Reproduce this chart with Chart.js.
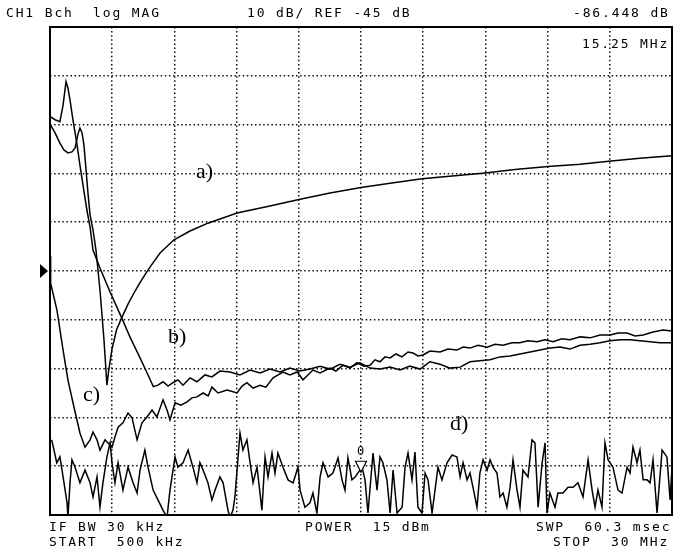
<!DOCTYPE html>
<html lang="en">
<head>
<meta charset="UTF-8">
<title>CH1 Bch log MAG</title>
<script src="https://cdn.jsdelivr.net/npm/chart.js"></script>
<style>
  body { margin: 0; background: #fff; }
  .wrap { position: relative; width: 673px; height: 549px; }
  .txt {
    position: absolute;
    font-family: 'DejaVu Sans Mono', monospace;
    font-size: 13px;
    line-height: 13px;
    letter-spacing: 1.85px;
    color: #000;
    white-space: pre;
  }
  .lbl {
    position: absolute;
    font-family: 'Liberation Serif', serif;
    font-size: 22px;
    line-height: 22px;
    color: #000;
  }
</style>
</head>
<body>
<div class="wrap">
  <canvas id="trace" width="673" height="549"></canvas>

  <span class="txt" style="left:6px; top:6px;">CH1 Bch  log MAG</span>
  <span class="txt" style="left:247px; top:6px;">10 dB/ REF -45 dB</span>
  <span class="txt" style="left:573px; top:6px;">-86.448 dB</span>
  <span class="txt" style="left:582px; top:37px;">15.25 MHz</span>

  <span class="txt" style="left:49px; top:520px;">IF BW 30 kHz</span>
  <span class="txt" style="left:49px; top:535px;">START  500 kHz</span>
  <span class="txt" style="left:305px; top:520px;">POWER  15 dBm</span>
  <span class="txt" style="left:536px; top:520px;">SWP  60.3 msec</span>
  <span class="txt" style="left:553px; top:535px;">STOP  30 MHz</span>

  <span class="txt" style="left:357px; top:445px; font-size:12px; letter-spacing:0;">0</span>

  <span class="lbl" style="left:196px; top:160px;">a)</span>
  <span class="lbl" style="left:168px; top:325px;">b)</span>
  <span class="lbl" style="left:83px; top:383px;">c)</span>
  <span class="lbl" style="left:450px; top:412px;">d)</span>
</div>

<script>
// sweep 500 kHz .. 30 MHz, 10 dB/div, REF -45 dB at centre line
const xTicks = [0.5, 3.45, 6.4, 9.35, 12.3, 15.25, 18.2, 21.15, 24.1, 27.05, 30];
const yTicks = [-95, -85, -75, -65, -55, -45, -35, -25, -15, -5, 5];
const refLevel = -45;
const markerFreq = 15.25;
const markerDb = -86.448;

// trace a) (MHz / dB)
const aFreq = [0.53, 0.74, 0.97, 1.16, 1.35, 1.54, 1.69, 1.83, 1.92, 2.02, 2.11, 2.21, 2.30, 2.40, 2.54,
  2.68, 2.87, 3.06, 3.20, 3.28, 3.44, 3.66, 3.90, 4.20, 4.52, 4.77, 5.00, 5.24, 5.72, 6.38, 7.14, 7.99, 9.37, 10.93,
  12.36, 13.78, 15.25, 16.63, 18.14, 19.71, 21.13, 22.55, 24.12, 25.64, 27.0, 28.48, 30.0];
const aDb = [-15.1, -16.7, -18.8, -20.2, -20.8, -20.6, -19.8, -16.9, -15.7, -16.7, -19.2, -24.3, -29.0, -33.5, -36.6,
  -40.7, -48.9, -59.1, -68.4, -65.5, -61.0, -57.0, -54.6, -51.8, -49.2, -47.4, -45.8, -44.2, -41.3, -38.6, -36.8, -35.2, -33.1, -31.7,
  -30.3, -29.0, -27.9, -27.0, -26.1, -25.5, -24.9, -24.2, -23.6, -23.1, -22.5, -21.9, -21.4];

// trace b)
const bFreq = [0.53, 0.74, 0.97, 1.12, 1.26, 1.35, 1.45, 1.59, 1.77, 1.92, 2.08, 2.25, 2.40, 2.54, 2.87,
  3.35, 3.90, 4.29, 4.77, 5.15, 5.40, 5.62, 5.86, 6.10, 6.33, 6.57, 6.81, 7.14, 7.47, 7.85, 8.18,
  8.56, 9.04, 9.51, 9.99, 10.46, 10.93, 11.41, 11.88, 12.36, 12.83, 13.31, 13.78, 14.25, 14.73, 15.20,
  15.68, 16.15, 16.63, 17.10, 17.57, 18.05, 18.52, 19.0, 19.47, 19.95, 20.42, 20.89, 21.37, 21.84,
  22.32, 22.79, 23.27, 23.74, 24.21, 24.69, 25.16, 25.64, 26.11, 26.59, 27.06, 27.54, 28.01, 28.48,
  28.96, 29.43, 30.0];
const bDb = [-13.4, -14.0, -14.4, -11.0, -6.2, -7.5, -10.0, -14.1, -18.8, -23.3, -27.8, -32.5, -36.0, -40.7, -44.4,
  -49.3, -54.6, -58.5, -62.8, -66.3, -68.7, -68.4, -67.7, -68.6, -67.9, -67.3, -68.4, -66.9, -67.7, -66.3, -66.7,
  -65.5, -65.7, -66.3, -65.3, -65.9, -65.1, -65.7, -64.9, -65.5, -65.1, -64.5, -65.1, -64.1, -64.7, -63.8,
  -64.9, -65.1, -64.7, -65.3, -64.5, -65.1, -63.6, -64.1, -64.9, -64.7, -63.6, -63.4, -63.2, -62.6,
  -62.4, -62.0, -61.6, -61.2, -60.8, -60.6, -61.0, -60.2, -60.0, -59.7, -59.3, -59.1, -59.1, -59.3,
  -59.5, -59.7, -59.7];

// trace c)
const cFreq = [0.52, 0.53, 0.83, 1.12, 1.35, 1.59, 1.92, 2.16, 2.40, 2.54, 2.73, 2.87, 3.11, 3.44, 3.58,
  3.73, 3.96, 4.20, 4.39, 4.63, 4.86, 5.10, 5.34, 5.57, 5.86, 6.05, 6.19, 6.43, 6.71, 7.0, 7.23,
  7.47, 7.76, 8.0, 8.18, 8.47, 8.90, 9.37, 9.61, 9.84, 10.13, 10.46, 10.74, 11.08, 11.55, 11.88,
  12.22, 12.5, 12.97, 13.31, 13.78, 14.06, 14.40, 14.73, 15.06, 15.39, 15.68, 15.91, 16.15, 16.39,
  16.63, 16.91, 17.19, 17.48, 17.72, 17.95, 18.19, 18.52, 19.0, 19.38, 19.80, 20.09, 20.42, 20.80,
  21.23, 21.61, 21.99, 22.41, 22.79, 23.17, 23.60, 23.98, 24.36, 24.78, 25.16, 25.64, 26.11, 26.59,
  27.06, 27.44, 27.87, 28.25, 28.63, 29.10, 29.57, 30.0];
const cDb = [-42.0, -47.5, -53.0, -61.2, -67.3, -72.0, -78.2, -81.1, -79.6, -78.0, -79.6, -81.7, -79.6, -81.1, -79.0,
  -77.0, -76.1, -74.1, -75.1, -79.6, -76.1, -74.9, -73.5, -74.9, -71.4, -73.5, -75.5, -72.0, -72.5, -71.8, -71.0,
  -70.8, -70.0, -70.6, -68.8, -70.0, -69.4, -70.0, -68.6, -67.9, -69.0, -68.4, -68.8, -66.9, -65.7, -66.3,
  -65.7, -67.3, -65.3, -65.9, -64.9, -65.5, -64.3, -64.9, -63.8, -64.5, -64.3, -63.2, -63.6, -62.6,
  -62.8, -62.0, -62.6, -61.6, -61.8, -62.4, -62.2, -61.4, -61.6, -61.0, -61.2, -60.6, -60.8, -60.2,
  -60.6, -60.0, -60.2, -59.7, -59.7, -59.3, -59.5, -59.1, -59.5, -58.9, -59.1, -58.5, -58.7, -58.1,
  -58.1, -57.7, -57.7, -58.3, -58.1, -57.5, -57.1, -57.3];

// trace d) (noise floor)
const dFreq = [0.58, 0.69, 0.82, 0.97, 1.12, 1.31, 1.35, 1.45, 1.54, 1.69, 1.92, 2.16, 2.40, 2.54, 2.73,
  2.87, 3.01, 3.20, 3.35, 3.44, 3.58, 3.73, 3.96, 4.20, 4.44, 4.63, 4.77, 5.0, 5.15, 5.39, 5.62,
  5.86, 6.05, 6.19, 6.43, 6.57, 6.81, 7.05, 7.28, 7.47, 7.61, 7.76, 7.99, 8.18, 8.33, 8.56, 8.71,
  8.94, 9.04, 9.18, 9.27, 9.51, 9.65, 9.84, 9.99, 10.13, 10.32, 10.55, 10.70, 10.84, 11.03, 11.17,
  11.31, 11.55, 11.79, 12.03, 12.26, 12.36, 12.59, 12.83, 12.97, 13.16, 13.31, 13.45, 13.69, 13.92,
  14.16, 14.35, 14.49, 14.63, 14.82, 14.97, 15.30, 15.44, 15.58, 15.82, 16.01, 16.15, 16.29, 16.48,
  16.63, 16.77, 16.96, 17.20, 17.34, 17.48, 17.67, 17.81, 17.95, 18.14, 18.29, 18.43, 18.62, 18.76,
  18.90, 19.09, 19.33, 19.57, 19.80, 19.95, 20.09, 20.28, 20.42, 20.56, 20.75, 20.89, 21.04, 21.23,
  21.37, 21.51, 21.70, 21.84, 21.99, 22.17, 22.32, 22.46, 22.65, 22.79, 22.93, 23.17, 23.36, 23.50,
  23.65, 23.84, 23.98, 24.07, 24.21, 24.45, 24.59, 24.83, 25.07, 25.31, 25.54, 25.78, 26.02, 26.21,
  26.35, 26.49, 26.68, 26.82, 26.97, 27.20, 27.44, 27.63, 27.87, 28.01, 28.15, 28.34, 28.48, 28.63,
  28.82, 28.96, 29.10, 29.29, 29.53, 29.76, 29.91, 30.0];
const dDb = [-79.6, -81.7, -84.3, -83.1, -87.2, -92.5, -95.5, -88.4, -83.7, -85.2, -88.4, -85.8, -88.4, -91.3, -87.2,
  -93.4, -88.4, -83.1, -80.2, -84.3, -88.4, -84.3, -89.9, -85.2, -88.4, -90.5, -85.8, -81.7, -85.2, -89.9, -91.9,
  -94.0, -95.5, -89.9, -83.1, -85.2, -84.3, -81.7, -85.2, -88.4, -84.3, -85.8, -88.4, -91.9, -89.9, -87.2, -88.4,
  -94.0, -95.5, -94.0, -91.3, -78.2, -81.7, -79.6, -84.3, -88.4, -85.2, -94.0, -83.1, -87.2, -82.3, -86.4,
  -82.3, -85.2, -87.8, -88.4, -85.2, -89.9, -93.4, -92.5, -90.5, -94.6, -87.2, -84.3, -87.2, -86.4,
  -83.3, -87.8, -89.9, -83.3, -87.8, -87.2, -85.2, -87.8, -94.6, -82.3, -89.9, -83.1, -84.3, -87.8,
  -94.6, -85.8, -94.6, -93.4, -85.2, -82.3, -87.8, -82.1, -93.4, -94.6, -86.4, -87.8, -94.6, -89.9,
  -85.2, -87.8, -84.3, -82.7, -83.1, -87.2, -84.3, -87.8, -86.4, -89.3, -93.4, -86.4, -83.7, -85.8,
  -83.7, -85.2, -86.4, -91.3, -90.5, -93.4, -89.3, -83.7, -89.9, -93.4, -85.8, -87.2, -79.6, -80.2,
  -93.4, -84.3, -80.2, -94.6, -90.5, -93.4, -90.5, -90.5, -89.3, -89.3, -88.4, -91.3, -83.7, -89.9,
  -93.4, -89.9, -93.4, -80.2, -83.7, -85.2, -89.9, -90.5, -85.2, -86.4, -81.1, -84.3, -81.7, -87.8,
  -87.8, -88.4, -83.7, -94.6, -81.7, -83.1, -91.9, -85.2];

function pts(fs, vs) {
  return fs.map((f, i) => ({ x: f, y: vs[i] }));
}

function trace(label, fs, vs) {
  return {
    label: label,
    data: pts(fs, vs),
    borderColor: '#000',
    borderWidth: 1.5,
    pointRadius: 0,
    tension: 0,
    fill: false
  };
}

// frame, REF arrow and marker 0
const framePlugin = {
  id: 'frame',
  afterDatasetsDraw(chart) {
    const { ctx, chartArea: a, scales } = chart;
    ctx.save();
    ctx.strokeStyle = '#000';
    ctx.fillStyle = '#000';
    ctx.lineWidth = 2;
    ctx.strokeRect(a.left, a.top, a.right - a.left, a.bottom - a.top);

    const yr = scales.y.getPixelForValue(refLevel);
    ctx.beginPath();
    ctx.moveTo(a.left - 10, yr - 7);
    ctx.lineTo(a.left - 2, yr);
    ctx.lineTo(a.left - 10, yr + 7);
    ctx.closePath();
    ctx.fill();

    const mx = scales.x.getPixelForValue(markerFreq);
    const my = scales.y.getPixelForValue(markerDb);
    ctx.lineWidth = 1.2;
    ctx.beginPath();
    ctx.moveTo(mx, my - 1);
    ctx.lineTo(mx - 5.5, my - 12);
    ctx.lineTo(mx + 5.5, my - 12);
    ctx.closePath();
    ctx.fillStyle = '#fff';
    ctx.fill();
    ctx.stroke();
    ctx.restore();
  }
};

const gridOpts = {
  color: '#111',
  lineWidth: 1.5,
  drawTicks: false,
  tickLength: 0
};

new Chart(document.getElementById('trace'), {
  type: 'line',
  data: {
    datasets: [
      trace('a)', aFreq, aDb),
      trace('b)', bFreq, bDb),
      trace('c)', cFreq, cDb),
      trace('d)', dFreq, dDb)
    ]
  },
  options: {
    responsive: false,
    animation: false,
    devicePixelRatio: 1,
    layout: { padding: { left: 50, top: 27, right: 1, bottom: 34 } },
    plugins: {
      legend: { display: false },
      tooltip: { enabled: false }
    },
    scales: {
      x: {
        type: 'linear',
        min: 0.5,
        max: 30,
        afterBuildTicks: axis => { axis.ticks = xTicks.map(v => ({ value: v })); },
        ticks: { display: false },
        grid: gridOpts,
        border: { display: false, dash: [1.5, 2.6] }
      },
      y: {
        type: 'linear',
        min: -95,
        max: 5,
        afterBuildTicks: axis => { axis.ticks = yTicks.map(v => ({ value: v })); },
        ticks: { display: false },
        grid: gridOpts,
        border: { display: false, dash: [1.5, 2.6] }
      }
    }
  },
  plugins: [framePlugin]
});
</script>
</body>
</html>
